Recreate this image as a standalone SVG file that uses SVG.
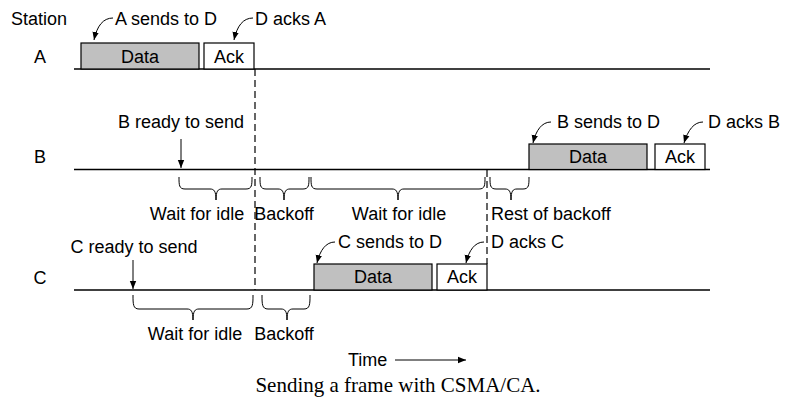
<svg xmlns="http://www.w3.org/2000/svg" width="795" height="402" viewBox="0 0 795 402">
<defs>
<marker id="ah" viewBox="0 0 10 10" refX="10" refY="5" markerWidth="8" markerHeight="8" markerUnits="userSpaceOnUse" orient="auto">
<path d="M0,1 L10,5 L0,9 Z" fill="#000"/>
</marker>
<style>
text{font-family:"Liberation Sans",Arial,sans-serif;font-size:18px;fill:#000}
.cap{font-family:"Liberation Serif","Times New Roman",serif;font-size:21px}
.m{text-anchor:middle}
.ln{stroke:#000;stroke-width:1.3;fill:none}
.br{stroke:#000;stroke-width:1;fill:none}
.dash{stroke:#000;stroke-width:1.2;stroke-dasharray:7,4;fill:none}
.arr{stroke:#000;stroke-width:1;fill:none;marker-end:url(#ah)}
.data{fill:#c0c0c0;stroke:#000;stroke-width:1.2}
.ack{fill:#fff;stroke:#000;stroke-width:1.2}
</style>
</defs>
<rect width="795" height="402" fill="#fff"/>
<g id="labels">
<text x="11" y="25">Station</text>
<text x="40" y="63" class="m">A</text>
<text x="40" y="163" class="m">B</text>
<text x="40" y="284" class="m">C</text>
</g>
<g id="timelines">
<line class="ln" x1="74" y1="69" x2="710" y2="69"/>
<line class="ln" x1="74" y1="169.5" x2="710" y2="169.5"/>
<line class="ln" x1="74" y1="290" x2="710" y2="290"/>
</g>
<g id="stationA">
<rect class="data" x="81" y="43" width="118" height="26"/>
<text x="140" y="63" class="m">Data</text>
<rect class="ack" x="204" y="43" width="50" height="26"/>
<text x="229" y="63" class="m">Ack</text>
<text x="115" y="25">A sends to D</text>
<text x="255" y="25">D acks A</text>
</g>
<g id="stationB">
<rect class="data" x="529" y="144" width="118" height="25.5"/>
<text x="588" y="163" class="m">Data</text>
<rect class="ack" x="655" y="144" width="50" height="25.5"/>
<text x="680" y="163" class="m">Ack</text>
<text x="181" y="128" class="m">B ready to send</text>
<text x="557" y="128">B sends to D</text>
<text x="708" y="128">D acks B</text>
<text x="197" y="220" class="m">Wait for idle</text>
<text x="284" y="220" class="m">Backoff</text>
<text x="399" y="220" class="m">Wait for idle</text>
<text x="491" y="220">Rest of backoff</text>
</g>
<g id="stationC">
<rect class="data" x="314" y="264" width="118" height="26"/>
<text x="373" y="283" class="m">Data</text>
<rect class="ack" x="437" y="264" width="50" height="26"/>
<text x="462" y="283" class="m">Ack</text>
<text x="134" y="253" class="m">C ready to send</text>
<text x="338" y="248">C sends to D</text>
<text x="491" y="248">D acks C</text>
<text x="195" y="340" class="m">Wait for idle</text>
<text x="284" y="340" class="m">Backoff</text>
</g>
<g id="connectors">
<line class="dash" x1="255" y1="69" x2="255" y2="290"/>
<line class="dash" x1="487" y1="170" x2="487" y2="264"/>
<path class="arr" d="M113,18 C103,18 97,26 94,40"/>
<path class="arr" d="M253,18 C243,18 237,26 234,40"/>
<path class="arr" d="M551,122 C542,122 536,130 533,143"/>
<path class="arr" d="M703,122 C694,122 688,130 684,143"/>
<path class="arr" d="M335,242 C326,242 320,250 317,263"/>
<path class="arr" d="M484,242 C475,242 469,250 466,263"/>
<line class="arr" x1="181" y1="139" x2="181" y2="168"/>
<line class="arr" x1="133" y1="260" x2="133" y2="289"/>
<line class="arr" x1="395" y1="360" x2="466" y2="360"/>
</g>
<g id="braces">
<path class="br" d="M179,177 C179,185 179,189 185,189 H210 C214,189 216,191 216,200 C216,191 218,189 222,189 H246 C252,189 252,185 252,177"/>
<path class="br" d="M260,177 C260,185 260,189 266,189 H278 C282,189 284,191 284,200 C284,191 286,189 290,189 H303 C309,189 309,185 309,177"/>
<path class="br" d="M311,177 C311,185 311,189 317,189 H392 C396,189 398,191 398,200 C398,191 400,189 404,189 H479 C485,189 485,185 485,177"/>
<path class="br" d="M490,177 C490,185 490,189 496,189 H505 C509,189 511,191 511,200 C511,191 513,189 517,189 H523 C529,189 529,185 529,177"/>
<path class="br" d="M133,295 C133,304 133,309 139,309 H187 C191,309 193,311 193,320 C193,311 195,309 199,309 H247 C253,309 253,304 253,295"/>
<path class="br" d="M262,295 C262,304 262,309 268,309 H281 C285,309 287,311 287,320 C287,311 289,309 293,309 H304 C310,309 310,304 310,295"/>
</g>
<g id="time">
<text x="348" y="366">Time</text>
<text x="398" y="392" class="cap m">Sending a frame with CSMA/CA.</text>
</g>
</svg>
